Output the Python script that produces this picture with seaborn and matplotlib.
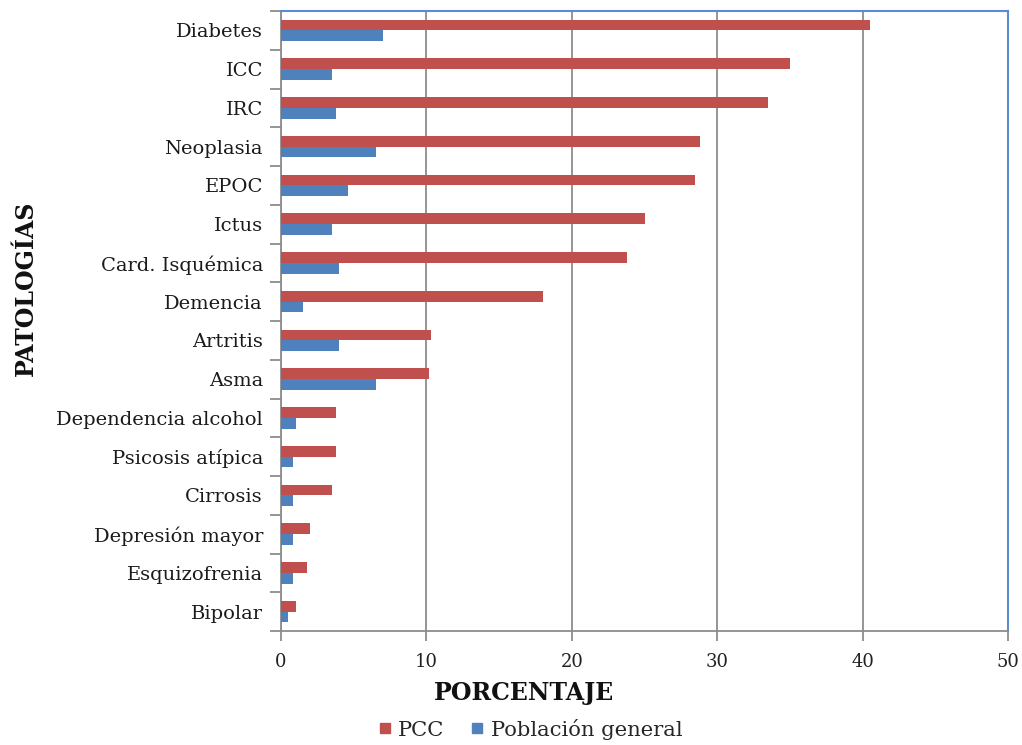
import matplotlib
matplotlib.use("Agg")
import matplotlib.pyplot as plt
from matplotlib.lines import Line2D
from matplotlib.ticker import FixedLocator, NullFormatter
import numpy as np
import pandas as pd
import seaborn as sns

# Prevalence (%) of each condition: PCC patients vs general population
categories = [
    "Diabetes", "ICC", "IRC", "Neoplasia", "EPOC", "Ictus",
    "Card. Isquémica", "Demencia", "Artritis", "Asma",
    "Dependencia alcohol", "Psicosis atípica", "Cirrosis",
    "Depresión mayor", "Esquizofrenia", "Bipolar",
]
pcc = [40.5, 35.0, 33.5, 28.8, 28.5, 25.0, 23.8, 18.0, 10.3, 10.2,
       3.8, 3.8, 3.5, 2.0, 1.8, 1.0]
poblacion = [7.0, 3.5, 3.8, 6.5, 4.6, 3.5, 4.0, 1.5, 4.0, 6.5,
             1.0, 0.8, 0.8, 0.8, 0.8, 0.5]
series_names = ["PCC", "Población general"]
xticks = [0, 10, 20, 30, 40, 50]

RED = "#C0504D"
BLUE = "#4F81BD"
GRID = "#8C8C8C"
FRAME = "#5B8BD0"

df = pd.DataFrame({
    "Patología": categories * 2,
    "Porcentaje": pcc + poblacion,
    "Serie": [series_names[0]] * len(categories) + [series_names[1]] * len(categories),
})

sns.set_theme(style="white")
plt.rcParams["font.family"] = ["DejaVu Serif"]

fig = plt.figure(figsize=(10.22, 7.45), dpi=100)
ax = fig.add_axes([281 / 1022, 1 - 631 / 745, (1008 - 281) / 1022, (631 - 11) / 745])

sns.barplot(
    data=df, y="Patología", x="Porcentaje", hue="Serie",
    order=categories, hue_order=series_names,
    palette=[RED, BLUE], orient="h", width=0.56,
    saturation=1, errorbar=None, legend=False, ax=ax, zorder=3,
    edgecolor="none", linewidth=0,
)

ax.set_xlim(0, 50)
ax.set_ylim(len(categories) - 0.5, -0.5)
ax.set_xticks(xticks)
ax.set_xticklabels([str(t) for t in xticks], fontsize=13, color="#222222")
ax.xaxis.grid(True, color=GRID, linewidth=1.3, zorder=0)
ax.yaxis.grid(False)
ax.set_axisbelow(True)

# category labels centred, tick marks on the category boundaries
ax.tick_params(axis="y", which="major", length=0, pad=13, labelsize=14, labelcolor="#1a1a1a")
ax.yaxis.set_minor_locator(FixedLocator(np.arange(-0.5, len(categories) + 0.5, 1.0)))
ax.yaxis.set_minor_formatter(NullFormatter())
ax.tick_params(axis="y", which="minor", left=True, length=8, width=1.3, color=GRID)
ax.tick_params(axis="x", which="major", bottom=True, length=7, width=1.3, color=GRID, pad=9)

ax.set_xlabel("")
ax.set_ylabel("")

for side in ("left", "bottom"):
    ax.spines[side].set_color(GRID)
    ax.spines[side].set_linewidth(1.3)
for side in ("top", "right"):
    ax.spines[side].set_color(FRAME)
    ax.spines[side].set_linewidth(1.5)
    ax.spines[side].set_visible(True)

fig.text(524 / 1022, 1 - 693 / 745, "PORCENTAJE", ha="center", va="center",
         fontsize=17, fontweight="bold", color="#111111")
fig.text(26 / 1022, 1 - 288 / 745, "PATOLOGÍAS", ha="center", va="center",
         rotation=90, fontsize=17, fontweight="bold", color="#111111")

handles = [
    Line2D([], [], linestyle="none", marker="s", markersize=7,
           markerfacecolor=c, markeredgecolor=c)
    for c in (RED, BLUE)
]
fig.legend(handles, series_names, loc="center", bbox_to_anchor=(531 / 1022, 1 - 729 / 745),
           ncol=2, frameon=False, fontsize=15.2, handlelength=0.5, handletextpad=0.4,
           columnspacing=1.3, borderpad=0)

fig.savefig("out.png", dpi=100, facecolor="white")
